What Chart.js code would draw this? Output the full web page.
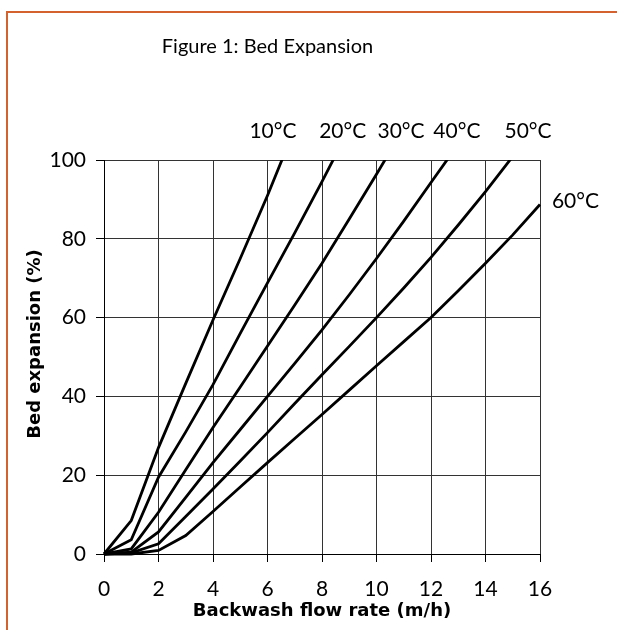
<!DOCTYPE html>
<html>
<head>
<meta charset="utf-8">
<title>Bed Expansion</title>
<script src="https://cdn.jsdelivr.net/npm/chart.js@4.4.0/dist/chart.umd.min.js"></script>
<style>
  html, body { margin: 0; padding: 0; background: #fff; }
  #marco {
    position: absolute; left: 6px; top: 11px; width: 611px; height: 619px;
    border-top: 2px solid #d4622f; border-left: 2px solid #d4622f; box-sizing: border-box;
  }
  #grafico { position: absolute; left: 0; top: 0; }
</style>
</head>
<body>
<div id="marco"></div>
<canvas id="grafico" width="617" height="630"></canvas>
<script>
// datos (caudal en m/h, expansion en %)
const caudal = [0, 1, 2, 3, 4, 5, 6, 7, 8, 9, 10, 11, 12, 13, 14, 15, 16];
const temperaturas = ["10°C", "20°C", "30°C", "40°C", "50°C", "60°C"];
const exp10 = [0, 8.5, 27, 43.3, 59.4, 75, 91, 108];
const exp20 = [0, 3.6, 19.5, 31, 43, 56, 68.8, 81.5, 94.5, 108];
const exp30 = [0, 1.3, 10.6, 21.4, 32.1, 42.4, 52.8, 63.2, 73.8, 85, 96.4, 108];
const exp40 = [0, 0.5, 5.6, 14.4, 23.2, 31.6, 40, 48.4, 56.9, 65.8, 75, 84.5, 94.3, 104];
const exp50 = [0, 0.3, 2.6, 9.5, 16.5, 23.6, 30.8, 38.2, 45.5, 52.7, 60, 67.5, 75.3, 83.5, 92, 100.9, 110];
const exp60 = [0, 0, 0.9, 4.7, 10.8, 17, 23.2, 29.3, 35.4, 41.6, 47.8, 53.9, 60, 66.8, 73.8, 81, 88.7];
const ticksX = [0, 2, 4, 6, 8, 10, 12, 14, 16];
const ticksY = [0, 20, 40, 60, 80, 100];

const series = [exp10, exp20, exp30, exp40, exp50, exp60];

// donde va cada etiqueta de temperatura (en unidades del grafico)
const posEtiquetas = [
  { x: 6.2, y: 107.3 },
  { x: 8.76, y: 107.3 },
  { x: 10.9, y: 107.3 },
  { x: 12.95, y: 107.3 },
  { x: 15.56, y: 107.3 },
  { x: 17.3, y: 89.6 },
];

const ctx = document.getElementById("grafico");
Chart.defaults.font.family = "Lato, 'DejaVu Sans', sans-serif";
Chart.defaults.color = "#000";
const fuenteNegrita = "'DejaVu Sans', sans-serif";

const textos = {
  id: "textos",
  afterDraw(chart) {
    const c = chart.ctx;
    const sx = chart.scales.x;
    const sy = chart.scales.y;
    c.save();
    c.fillStyle = "#000";
    c.textAlign = "center";
    c.textBaseline = "middle";

    c.font = "20px Lato";
    c.fillText("Figure 1: Bed Expansion", 267.5, 47);

    c.font = "21px Lato";
    temperaturas.forEach((t, i) => {
      c.fillText(t, sx.getPixelForValue(posEtiquetas[i].x), sy.getPixelForValue(posEtiquetas[i].y));
    });

    // titulo del eje y
    c.font = "bold 18px " + fuenteNegrita;
    c.translate(35, 344);
    c.rotate(-Math.PI / 2);
    c.fillText("Bed expansion (%)", 0, 0);
    c.restore();
  },
};

new Chart(ctx, {
  type: "line",
  data: {
    datasets: series.map((valores, i) => ({
      label: temperaturas[i],
      data: valores.map((v, j) => ({ x: caudal[j], y: v })),
      borderColor: "#000",
      borderWidth: 2.8,
      pointRadius: 0,
      tension: 0,
      clip: { left: 2, top: 0, right: 1, bottom: 3 },
    })),
  },
  options: {
    responsive: false,
    animation: false,
    devicePixelRatio: 1,
    layout: { padding: { left: 0, top: 160, right: 77, bottom: 0 } },
    plugins: { legend: { display: false }, tooltip: { enabled: false } },
    scales: {
      x: {
        type: "linear",
        min: 0,
        max: 16,
        afterFit: (scale) => { scale.height = 76; },
        afterBuildTicks: (scale) => { scale.ticks = ticksX.map((v) => ({ value: v })); },
        ticks: { font: { size: 21 }, padding: 15, maxRotation: 0 },
        grid: { color: "#333", lineWidth: 1, tickLength: 8, tickColor: "#000" },
        border: { color: "#000", width: 1 },
        title: {
          display: true,
          text: "Backwash flow rate (m/h)",
          font: { family: fuenteNegrita, size: 18, weight: "bold" },
          padding: { top: 0, bottom: 8 },
        },
      },
      y: {
        min: 0,
        max: 100,
        afterFit: (scale) => { scale.width = 104; },
        afterBuildTicks: (scale) => { scale.ticks = ticksY.map((v) => ({ value: v })); },
        ticks: { font: { size: 21 }, padding: 10 },
        grid: { color: "#333", lineWidth: 1, tickLength: 8, tickColor: "#000" },
        border: { color: "#000", width: 1 },
      },
    },
  },
  plugins: [textos],
});
</script>
</body>
</html>
